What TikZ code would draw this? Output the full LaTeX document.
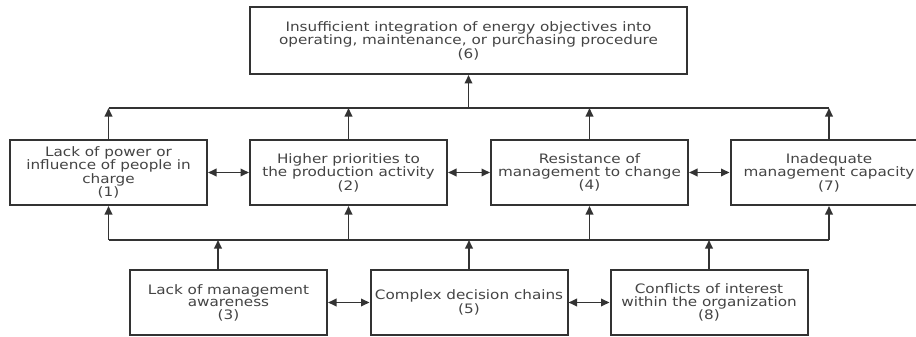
\documentclass[tikz,border=0pt]{standalone}
\usepackage{fontspec}
\setmainfont[FakeStretch=1.17]{DejaVu Sans}
\usetikzlibrary{arrows.meta}
\definecolor{linec}{HTML}{333333}
\definecolor{textc}{HTML}{444444}
\begin{document}
\begin{tikzpicture}[x=1pt,y=-1pt,
  box/.style={draw=linec, line width=2pt, fill=white, minimum width=197pt, minimum height=65pt,
    inner sep=0pt, align=center, font=\fontsize{13}{12.5}\selectfont, text=textc},
  conn/.style={draw=linec, line width=1.8pt},
  tip/.tip={Triangle[length=8.5pt,width=7.5pt]},
  arr/.style={conn, -tip},
  darr/.style={conn, tip-tip}]
\clip (0,0) rectangle (916,337);
% top
\node[box, minimum width=437pt, minimum height=67pt] (n6) at (468.5,40.5)
  {Insufficient integration of energy objectives into\\operating, maintenance, or purchasing procedure\\(6)};
% middle row
\node[box] (n1) at (108.5,172.5) {Lack of power or\\influence of people in\\charge\\(1)};
\node[box] (n2) at (348.5,172.5) {Higher priorities to\\the production activity\\(2)};
\node[box] (n4) at (589.5,172.5) {Resistance of\\management to change\\(4)};
\node[box] (n7) at (829,172.5) {Inadequate\\management capacity\\(7)};
% bottom row
\node[box] (n3) at (228.5,302.5) {Lack of management\\awareness\\(3)};
\node[box] (n5) at (469,302.5) {Complex decision chains\\(5)};
\node[box] (n8) at (709,302.5) {Conflicts of interest\\within the organization\\(8)};
% bus coordinates
\coordinate (bU) at (0,108);
\coordinate (bL) at (0,240);
% upper bus
\draw[conn] (n1.north |- bU) -- (n7.north |- bU);
\foreach \n in {n1,n2,n4,n7} \draw[arr] (\n.north) -- (\n.north |- bU);
\draw[arr] (n6.south |- bU) -- (n6.south);
% lower bus
\draw[conn] (n1.south |- bL) -- (n7.south |- bL);
\foreach \n in {n1,n2,n4,n7} \draw[arr] (\n.south |- bL) -- (\n.south);
\draw[arr] ([xshift=-10.5pt]n3.north) -- ([xshift=-10.5pt]n3.north |- bL);
\draw[arr] (n5.north) -- (n5.north |- bL);
\draw[arr] (n8.north) -- (n8.north |- bL);
% double arrows
\draw[darr] (n1.east) -- (n2.west);
\draw[darr] (n2.east) -- (n4.west);
\draw[darr] (n4.east) -- (n7.west);
\draw[darr] (n3.east) -- (n5.west);
\draw[darr] (n5.east) -- (n8.west);
\end{tikzpicture}
\end{document}
